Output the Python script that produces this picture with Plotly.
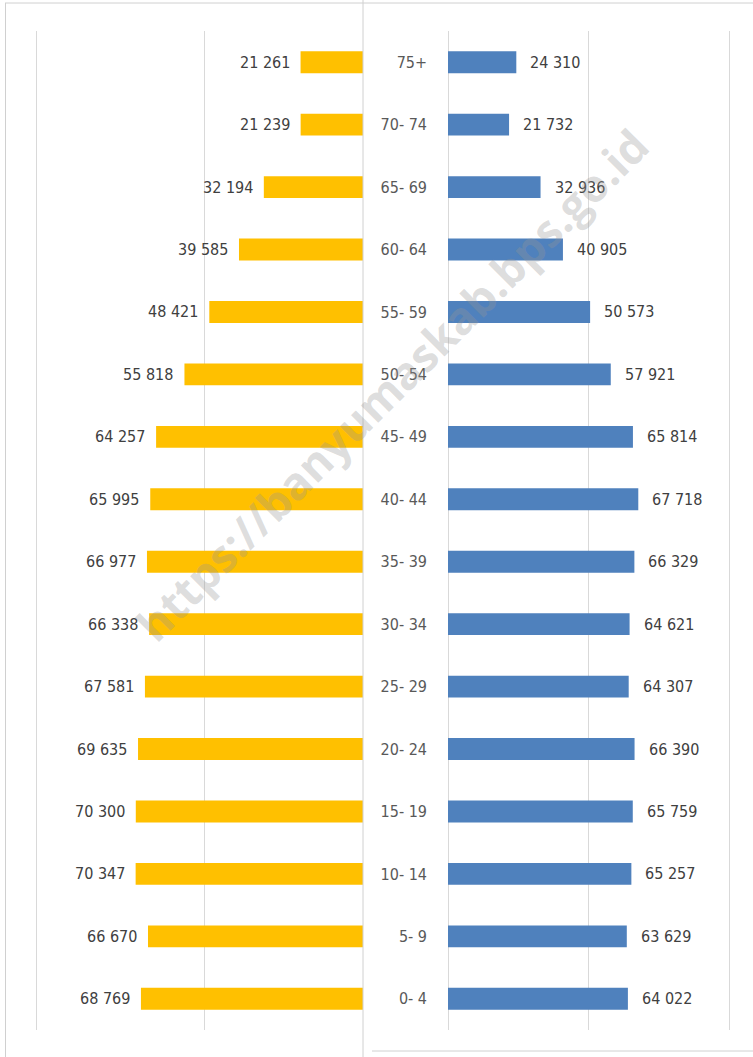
import plotly.graph_objects as go

W, H = 753, 1057

# age groups, bottom to top
ages = ["0- 4", "5- 9", "10- 14", "15- 19", "20- 24", "25- 29", "30- 34", "35- 39",
        "40- 44", "45- 49", "50- 54", "55- 59", "60- 64", "65- 69", "70- 74", "75+"]

left_values = [68769, 66670, 70347, 70300, 69635, 67581, 66338, 66977,
               65995, 64257, 55818, 48421, 39585, 32194, 21239, 21261]

right_values = [64022, 63629, 65257, 65759, 66390, 64307, 64621, 66329,
                67718, 65814, 57921, 50573, 40905, 32936, 21732, 24310]

grid_ticks = [0, 50000, 100000]

LABEL_FONT = "DejaVu Sans Condensed, Liberation Sans Narrow, Roboto, sans-serif"


def px(x):
    return x / W


def py(y):
    return 1 - y / H


def fmt(v):
    return f"{v:,}".replace(",", " ")


fig = go.Figure()

fig.add_trace(go.Bar(
    y=ages, x=left_values, orientation="h",
    xaxis="x", yaxis="y",
    marker=dict(color="#FFC000", line=dict(width=0)),
    width=0.35, hoverinfo="x+y",
))

fig.add_trace(go.Bar(
    y=ages, x=right_values, orientation="h",
    xaxis="x2", yaxis="y2",
    marker=dict(color="#4F81BD", line=dict(width=0)),
    width=0.35, hoverinfo="x+y",
))

annotations = []
for age, v in zip(ages, left_values):
    annotations.append(dict(
        x=v, y=age, xref="x", yref="y", text=fmt(v), showarrow=False,
        xanchor="right", xshift=-9,
        font=dict(family=LABEL_FONT, size=16, color="#404040"),
    ))
for age, v in zip(ages, right_values):
    annotations.append(dict(
        x=v, y=age, xref="x2", yref="y2", text=fmt(v), showarrow=False,
        xanchor="left", xshift=12,
        font=dict(family=LABEL_FONT, size=16, color="#404040"),
    ))

# watermark
annotations.append(dict(
    x=px(392), y=py(385), xref="paper", yref="paper",
    text="<b>https://banyumaskab.bps.go.id</b>", showarrow=False,
    textangle=-45, xanchor="center", yanchor="middle",
    font=dict(family="Open Sans, Liberation Sans, sans-serif", size=45,
              color="rgba(150,150,150,0.33)"),
))

# frames of the two chart images
frame = dict(color="#d0d0d0", width=1)
shapes = [
    dict(type="line", xref="paper", yref="paper", x0=px(5), x1=1, y0=py(3), y1=py(3), line=frame),
    dict(type="line", xref="paper", yref="paper", x0=px(5.5), x1=px(5.5), y0=py(3), y1=0, line=frame),
    dict(type="line", xref="paper", yref="paper", x0=px(363), x1=px(363), y0=1, y1=0, line=frame),
    dict(type="line", xref="paper", yref="paper", x0=px(372), x1=1, y0=py(1051), y1=py(1051), line=frame),
]

# left axis: 0 sits at ~372px, 50k at 204px, 100k at 36px; bars clipped at 363px
left_scale = 50000 / 168
left_range = [100000 + 2 * left_scale, 100000 - (363 - 36) * left_scale]

# right axis: 0 at 448px, 100k at 729px
right_scale = 100000 / 281
right_range = [-2 * right_scale, 100000 + 2 * right_scale]

y_dom = [py(1030), py(31)]

fig.update_layout(
    width=W, height=H,
    margin=dict(l=0, r=0, t=0, b=0),
    paper_bgcolor="white", plot_bgcolor="rgba(0,0,0,0)",
    showlegend=False,
    xaxis=dict(domain=[px(34), px(363)], range=left_range, tickvals=grid_ticks,
               showticklabels=False, showgrid=True, gridcolor="#d9d9d9", gridwidth=1,
               zeroline=False, showline=False),
    yaxis=dict(domain=y_dom, type="category", categoryorder="array", categoryarray=ages,
               showticklabels=False, showgrid=False, zeroline=False, showline=False,
               range=[-0.5, len(ages) - 0.5]),
    xaxis2=dict(domain=[px(446), px(731)], range=right_range, tickvals=grid_ticks,
                showticklabels=False, showgrid=True, gridcolor="#d9d9d9", gridwidth=1,
                zeroline=False, showline=False, anchor="y2"),
    yaxis2=dict(domain=y_dom, type="category", categoryorder="array", categoryarray=ages,
                anchor="x2", showgrid=False, zeroline=False, showline=False,
                range=[-0.5, len(ages) - 0.5], ticklabelstandoff=18,
                tickfont=dict(family=LABEL_FONT, size=16, color="#595959")),
    annotations=annotations,
    shapes=shapes,
)

fig.write_html("out.html", config={"displayModeBar": False},
               post_script="document.body.style.margin='0';")
